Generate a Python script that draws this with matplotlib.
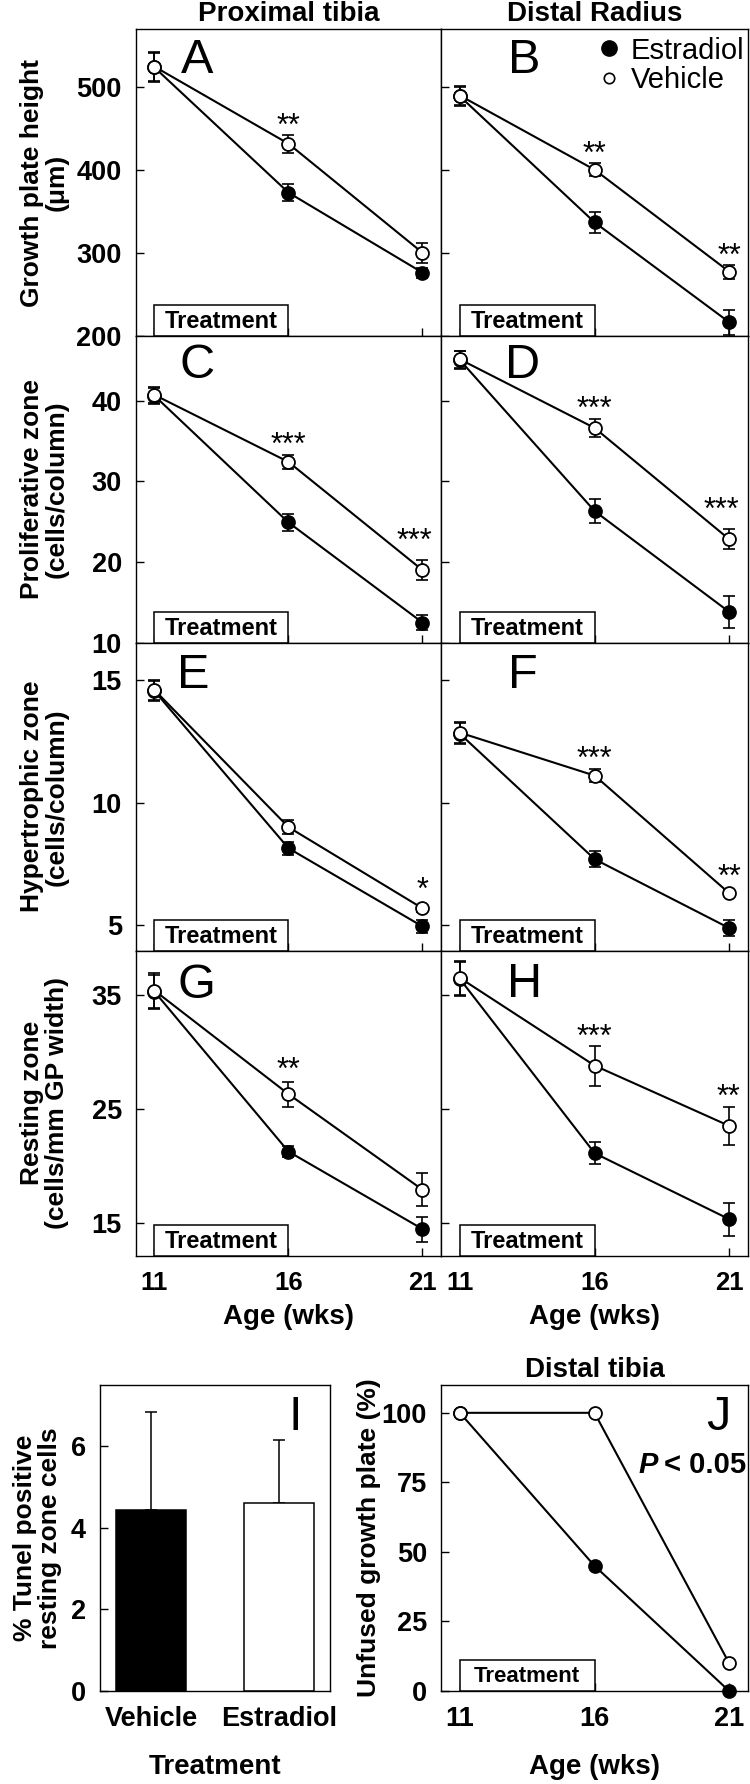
import matplotlib
matplotlib.use('Agg')
import matplotlib.pyplot as plt
from matplotlib.patches import Rectangle
from matplotlib.lines import Line2D
import matplotlib.transforms as mtransforms

plt.rcParams['font.family'] = ['Liberation Sans', 'DejaVu Sans']
plt.rcParams['font.weight'] = 'bold'

# ---------------- data ----------------
ages = [11, 16, 21]

# A: growth plate height, proximal tibia
a_veh = [525, 432, 300.5]
a_veh_err = [17.5, 11, 12]
a_e2 = [524, 373, 276.5]
a_e2_err = [17, 10.5, 6]
# B: growth plate height, distal radius
b_veh = [490, 400.5, 277.5]
b_veh_err = [11, 8, 8.5]
b_e2 = [489, 337, 216.5]
b_e2_err = [11, 13, 15]
# C: proliferative zone, proximal tibia
c_veh = [40.7, 32.4, 19.0]
c_veh_err = [1.0, 0.9, 1.2]
c_e2 = [40.6, 24.9, 12.5]
c_e2_err = [1.0, 1.0, 0.9]
# D: proliferative zone, distal radius
d_veh = [45.1, 36.6, 22.8]
d_veh_err = [1.1, 1.1, 1.25]
d_e2 = [45.0, 26.3, 13.8]
d_e2_err = [1.1, 1.45, 1.95]
# E: hypertrophic zone, proximal tibia
e_veh = [14.59, 9.0, 5.69]
e_veh_err = [0.42, 0.3, 0.15]
e_e2 = [14.55, 8.14, 4.95]
e_e2_err = [0.42, 0.27, 0.25]
# F: hypertrophic zone, distal radius
f_veh = [12.85, 11.1, 6.3]
f_veh_err = [0.43, 0.28, 0.12]
f_e2 = [12.8, 7.69, 4.88]
f_e2_err = [0.43, 0.32, 0.32]
# G: resting zone, proximal tibia
g_veh = [35.4, 26.3, 17.9]
g_veh_err = [1.55, 1.1, 1.45]
g_e2 = [35.3, 21.25, 14.44]
g_e2_err = [1.5, 0.5, 1.1]
# H: resting zone, distal radius
h_veh = [36.5, 28.8, 23.5]
h_veh_err = [1.5, 1.75, 1.65]
h_e2 = [36.4, 21.1, 15.3]
h_e2_err = [1.5, 0.95, 1.47]

# significance marks (x, y, text)
a_stars = [(16, 464, '**')]
b_stars = [(16, 430, '**'), (21, 307, '**')]
c_stars = [(16, 35.65, '***'), (20.7, 23.65, '***')]
d_stars = [(16, 40.0, '***'), (20.7, 27.5, '***')]
e_stars = [(21, 6.78, '*')]
f_stars = [(16, 12.15, '***'), (21, 7.32, '**')]
g_stars = [(16, 29.2, '**')]
h_stars = [(16, 32.1, '***'), (20.95, 26.8, '**')]

# I: TUNEL bars
i_groups = ['Vehicle', 'Estradiol']
i_values = [4.43, 4.62]
i_errs = [2.41, 1.54]

# J: unfused growth plate, distal tibia
j_veh = [100, 100, 10]
j_e2 = [100, 45, 0]

row_ylabels = ['Growth plate height\n(\u03bcm)',
               'Proliferative zone\n(cells/column)',
               'Hypertrophic zone\n(cells/column)',
               'Resting zone\n(cells/mm GP width)']
row_ylims = [(200, 570), (10, 48), (3.96, 16.52), (12.07, 38.9)]
row_yticks = [[200, 300, 400, 500], [10, 20, 30, 40], [5, 10, 15], [15, 25, 35]]

# ---------------- layout ----------------
W, H = 750, 1784
fig = plt.figure(figsize=(W / 100, H / 100), dpi=100)
fig.patch.set_facecolor('white')


def add_ax(x0, y0, x1, y1):
    return fig.add_axes([x0 / W, 1 - y1 / H, (x1 - x0) / W, (y1 - y0) / H])


col_x = [(135.7, 441.2), (441.2, 748.2)]
row_y = [(29.3, 336.0), (336.0, 642.7), (642.7, 950.7), (950.7, 1256.0)]

TICK_FS = 19.5
XTICK_FS = 18.5
LAB_FS = 20
YLAB_FS = 19
LW = 1.5
MS = 9.3


def style_axis(ax, show_ylabels):
    for s in ax.spines.values():
        s.set_linewidth(1.0)
    ax.tick_params(axis='both', direction='in', length=6, width=1.0,
                   labelsize=TICK_FS, top=False, right=False)
    ax.tick_params(axis='y', pad=10)
    ax.tick_params(axis='x', pad=11, labelsize=XTICK_FS)
    if not show_ylabels:
        ax.tick_params(axis='y', labelleft=False)


def treatment_box(ax, fs=17):
    tr = mtransforms.blended_transform_factory(ax.transData, ax.transAxes)
    h = 31.0 / (ax.get_position().height * H)
    rect = Rectangle((11, 0), 5, h, transform=tr, facecolor='white',
                     edgecolor='black', lw=1.1, zorder=6, clip_on=False)
    ax.add_patch(rect)
    ax.text(13.5, h * 0.47, 'Treatment', transform=tr, ha='center', va='center',
            fontsize=fs, fontweight='bold', zorder=7)


def plot_pair(ax, veh, veh_err, e2, e2_err):
    ax.errorbar(ages, e2, yerr=e2_err, fmt='none', ecolor='black',
                elinewidth=1.2, capsize=4.3, capthick=1.2, zorder=3)
    ax.errorbar(ages, veh, yerr=veh_err, fmt='none', ecolor='black',
                elinewidth=1.2, capsize=4.3, capthick=1.2, zorder=3)
    ax.plot(ages, e2, '-o', color='black', lw=LW, ms=MS, mfc='black',
            mec='black', mew=1.3, zorder=4, clip_on=False)
    ax.plot(ages, veh, '-o', color='black', lw=LW, ms=MS, mfc='white',
            mec='black', mew=1.3, zorder=5, clip_on=False)


def add_stars(ax, stars):
    off = mtransforms.offset_copy(ax.transData, fig=fig, y=-12.8, units='points')
    for x, y, s in stars:
        ax.text(x, y, s, transform=off, ha='center', va='baseline',
                fontsize=22, fontweight='normal', zorder=8)


panels = [
    ('A', a_veh, a_veh_err, a_e2, a_e2_err, a_stars, 0.20, 0.858),
    ('B', b_veh, b_veh_err, b_e2, b_e2_err, b_stars, 0.27, 0.858),
    ('C', c_veh, c_veh_err, c_e2, c_e2_err, c_stars, 0.20, 0.862),
    ('D', d_veh, d_veh_err, d_e2, d_e2_err, d_stars, 0.266, 0.862),
    ('E', e_veh, e_veh_err, e_e2, e_e2_err, e_stars, 0.19, 0.852),
    ('F', f_veh, f_veh_err, f_e2, f_e2_err, f_stars, 0.266, 0.852),
    ('G', g_veh, g_veh_err, g_e2, g_e2_err, g_stars, 0.20, 0.845),
    ('H', h_veh, h_veh_err, h_e2, h_e2_err, h_stars, 0.273, 0.849),
]

axes = {}
for idx, (letter, veh, veh_err, e2, e2_err, stars, lx, ly) in enumerate(panels):
    r, c = divmod(idx, 2)
    x0, x1 = col_x[c]
    y0, y1 = row_y[r]
    ax = add_ax(x0, y0, x1, y1)
    axes[letter] = ax
    ax.set_xlim(10.3, 21.7)
    ax.set_ylim(*row_ylims[r])
    ax.set_yticks(row_yticks[r])
    ax.set_xticks(ages)
    style_axis(ax, c == 0)
    if r < 3:
        ax.tick_params(axis='x', labelbottom=False)
    plot_pair(ax, veh, veh_err, e2, e2_err)
    add_stars(ax, stars)
    treatment_box(ax)
    ax.text(lx, ly, letter, transform=ax.transAxes, ha='center', va='baseline',
            fontsize=35, fontweight='normal', zorder=8)
    if c == 0:
        ax.text(-0.3, 0.5, row_ylabels[r], transform=ax.transAxes, rotation=90,
                ha='center', va='center', multialignment='center',
                fontsize=YLAB_FS, fontweight='bold', linespacing=1.05)
    if r == 0:
        ax.set_title(['Proximal tibia', 'Distal Radius'][c], fontsize=LAB_FS,
                     fontweight='bold', pad=6)
    if r == 3:
        ax.text(0.5, -0.2, 'Age (wks)', transform=ax.transAxes, ha='center',
                va='center', fontsize=LAB_FS, fontweight='bold')

# legend in B
handles = [Line2D([], [], marker='o', linestyle='none', color='black', ms=11,
                  mfc='black'),
           Line2D([], [], marker='o', linestyle='none', color='black', ms=7.5,
                  mfc='white', mew=1.2)]
axes['B'].legend(handles, ['Estradiol', 'Vehicle'], loc='upper left',
                 bbox_to_anchor=(0.48, 0.995), frameon=False,
                 prop={'size': 21, 'weight': 'normal'}, handletextpad=0.25,
                 labelspacing=0.05, borderaxespad=0, handlelength=1.0,
                 borderpad=0.2)

# ---------------- I: bars ----------------
axI = add_ax(99.8, 1385, 330, 1691)
axI.bar([0, 1], i_values, width=0.55, color=['black', 'white'],
        edgecolor='black', linewidth=1.1, zorder=2)
axI.errorbar([0, 1], i_values, yerr=[[0, 0], i_errs], fmt='none',
             ecolor='black', elinewidth=1.1, capsize=4, capthick=1.1, zorder=1)
axI.set_xlim(-0.4, 1.4)
axI.set_ylim(0, 7.5)
axI.set_yticks([0, 2, 4, 6])
axI.set_xticks([0, 1])
axI.set_xticklabels(i_groups)
style_axis(axI, True)
axI.tick_params(axis='x', length=0, labelsize=TICK_FS)
axI.text(0.85, 0.853, 'I', transform=axI.transAxes, ha='center', va='baseline',
         fontsize=35, fontweight='normal')
axI.text(-0.27, 0.5, '% Tunel positive\nresting zone cells',
         transform=axI.transAxes, rotation=90, ha='center', va='center',
         multialignment='center', fontsize=YLAB_FS, fontweight='bold',
         linespacing=1.05)
axI.text(0.5, -0.248, 'Treatment', transform=axI.transAxes, ha='center',
         va='center', fontsize=LAB_FS, fontweight='bold')

# ---------------- J: unfused ----------------
axJ = add_ax(441, 1385, 748, 1691)
axJ.plot(ages, j_e2, '-o', color='black', lw=LW, ms=MS, mfc='black',
         mec='black', mew=1.3, zorder=4, clip_on=False)
axJ.plot(ages, j_veh, '-o', color='black', lw=LW, ms=MS, mfc='white',
         mec='black', mew=1.3, zorder=5, clip_on=False)
axJ.set_xlim(10.3, 21.7)
axJ.set_ylim(0, 110)
axJ.set_yticks([0, 25, 50, 75, 100])
axJ.set_xticks(ages)
style_axis(axJ, True)
axJ.tick_params(axis='x', labelsize=TICK_FS)
treatment_box(axJ, fs=16)
axJ.set_title('Distal tibia', fontsize=LAB_FS, fontweight='bold', pad=6)
axJ.text(0.905, 0.853, 'J', transform=axJ.transAxes, ha='center',
         va='baseline', fontsize=35, fontweight='normal')
axJ.text(0.705, 0.739, 'P', transform=axJ.transAxes, ha='right',
         va='center', fontsize=21, fontweight='bold', style='italic')
axJ.text(0.725, 0.739, '< 0.05', transform=axJ.transAxes, ha='left',
         va='center', fontsize=21, fontweight='bold')
axJ.text(-0.235, 0.5, 'Unfused growth plate (%)', transform=axJ.transAxes,
         rotation=90, ha='center', va='center', fontsize=YLAB_FS,
         fontweight='bold')
axJ.text(0.5, -0.248, 'Age (wks)', transform=axJ.transAxes, ha='center',
         va='center', fontsize=LAB_FS, fontweight='bold')

fig.savefig('out.png', dpi=100)
